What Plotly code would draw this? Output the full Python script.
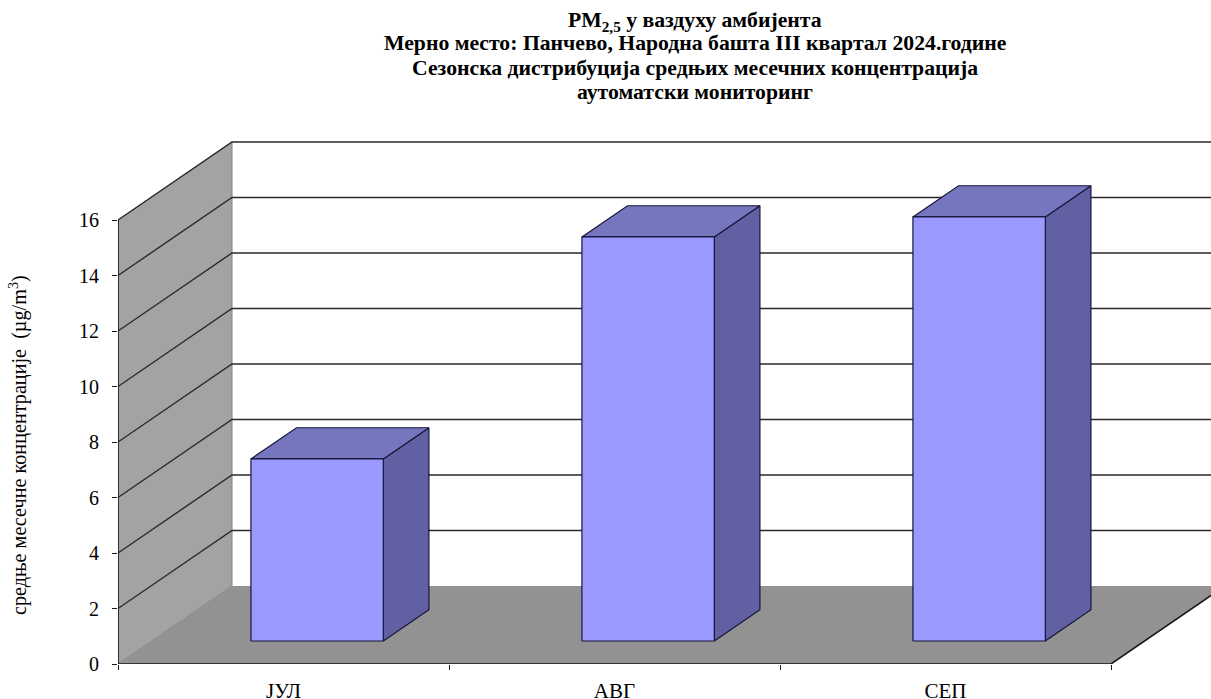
import plotly.graph_objects as go

categories = ["ЈУЛ", "АВГ", "СЕП"]
values = [6.56, 14.56, 15.28]
y_ticks = [0, 2, 4, 6, 8, 10, 12, 14, 16]
title_lines = [
    "PM<sub>2,5</sub> у ваздуху амбијента",
    "Мерно место: Панчево, Народна башта III квартал 2024.године",
    "Сезонска дистрибуција средњих месечних концентрација",
    "аутоматски мониторинг",
]
title_centers_px = [22, 43, 68, 92]
y_title = "средње месечне концентрације  (µg/m<sup>3</sup>)"

# oblique projection of the pseudo-3D chart box, in axis units
DEPTH_X = 114 / 331
DEPTH_Y = 78 / 27.75
BAR_FRONT, BAR_BACK = 0.295, 0.695
BAR_GAP, BAR_WIDTH = 0.3, 0.4
N = len(categories)
Y_MAX = y_ticks[-1]

FONT = "Liberation Serif"
WALL, FLOOR = "#A3A3A3", "#929292"
FRONT, TOP, SIDE = "#9999FF", "#7676BE", "#6060A2"
EDGE = "#16163A"
GRID = "#2A2A2A"


def proj(x, v, d):
    return x + d * DEPTH_X, v + d * DEPTH_Y


def poly(points, fill=None, line=None, width=1.0):
    xs, ys = zip(*[proj(*p) for p in points])
    closed = fill is not None
    fig.add_trace(go.Scatter(
        x=list(xs) + ([xs[0]] if closed else []),
        y=list(ys) + ([ys[0]] if closed else []),
        mode="lines",
        fill="toself" if closed else None,
        fillcolor=fill,
        line=dict(color=line or "rgba(0,0,0,0)", width=width),
        hoverinfo="skip",
        showlegend=False,
    ))


fig = go.Figure()

# left wall and floor
poly([(0, 0, 0), (0, 0, 1), (0, Y_MAX, 1), (0, Y_MAX, 0)], fill=WALL, line="#808080", width=1)
poly([(0, 0, 0), (N, 0, 0), (N, 0, 1), (0, 0, 1)], fill=FLOOR)

# gridlines on back wall and left wall
for v in y_ticks[1:]:
    poly([(0, v, 0), (0, v, 1), (N, v, 1)], line=GRID, width=1.4)

# bars
for i, val in enumerate(values):
    x0 = i + BAR_GAP
    x1 = x0 + BAR_WIDTH
    poly([(x1, 0, BAR_FRONT), (x1, 0, BAR_BACK), (x1, val, BAR_BACK), (x1, val, BAR_FRONT)],
         fill=SIDE, line=EDGE, width=1.2)
    poly([(x0, val, BAR_FRONT), (x1, val, BAR_FRONT), (x1, val, BAR_BACK), (x0, val, BAR_BACK)],
         fill=TOP, line=EDGE, width=1.2)
    poly([(x0, 0, BAR_FRONT), (x1, 0, BAR_FRONT), (x1, val, BAR_FRONT), (x0, val, BAR_FRONT)],
         fill=FRONT, line=EDGE, width=1.2)

# axis lines of the front of the box
poly([(0, Y_MAX, 0), (0, 0, 0), (N, 0, 0), (N, 0, 1)], line="#1A1A1A", width=1.6)

L, T, R_EDGE, B_EDGE = 118, 130, 1211, 664
W, H = 1211, 699

title_annotations = [
    dict(
        text=f"<b>{t}</b>",
        xref="paper", yref="paper",
        x=(695 - L) / (R_EDGE - L), y=(B_EDGE - c) / (B_EDGE - T),
        xanchor="center", yanchor="middle", showarrow=False,
        font=dict(family=FONT, size=15.5 * 622 / 444, color="black"),
    )
    for t, c in zip(title_lines, title_centers_px)
]

fig.update_layout(
    width=W, height=H,
    margin=dict(l=L, r=W - R_EDGE, t=T, b=H - B_EDGE, pad=0, autoexpand=False),
    paper_bgcolor="white", plot_bgcolor="white",
    font=dict(family=FONT, color="black", size=18),
    showlegend=False,
    xaxis=dict(
        automargin=False,
        range=[0, (R_EDGE - L) / 331],
        tickmode="array",
        tickvals=[i + 0.5 for i in range(N)],
        ticktext=categories,
        ticks="",
        showgrid=False, zeroline=False, showline=False,
        tickfont=dict(family=FONT, size=21),
        ticklabelstandoff=12,
        minor=dict(tickmode="array", tickvals=list(range(N + 1)), ticks="outside",
                   ticklen=5, tickwidth=1, tickcolor="#1A1A1A", showgrid=False),
    ),
    yaxis=dict(
        automargin=False,
        range=[0, (B_EDGE - T) / 27.75],
        tickmode="array",
        tickvals=y_ticks,
        ticktext=[str(v) for v in y_ticks],
        ticks="outside", ticklen=5, tickwidth=1, tickcolor="#1A1A1A",
        showgrid=False, zeroline=False, showline=False,
        tickfont=dict(family=FONT, size=20),
        ticklabelstandoff=9,
    ),
    annotations=title_annotations + [dict(
        text=y_title, textangle=-90,
        xref="paper", yref="paper",
        x=(18 - L) / (R_EDGE - L), y=(B_EDGE - 445) / (B_EDGE - T),
        xanchor="center", yanchor="middle", showarrow=False,
        font=dict(family=FONT, size=20.2, color="black"),
    )],
)

fig.write_html(
    "out.html",
    config=dict(displayModeBar=False),
    post_script="document.body.style.margin='0';document.body.style.overflow='hidden';",
)
